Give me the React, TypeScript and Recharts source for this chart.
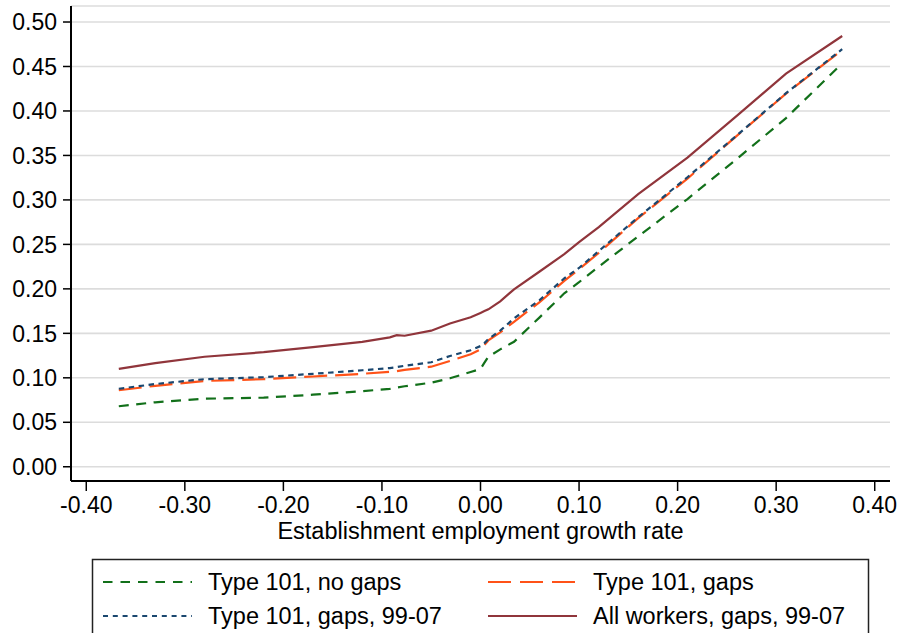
import React from "react";
import { LineChart, Line, XAxis, YAxis, CartesianGrid } from "recharts";

const xValues = [-0.367, -0.33, -0.28, -0.22, -0.17, -0.12, -0.092, -0.085, -0.077, -0.05, -0.031, -0.01, 0.0, 0.004, 0.008, 0.02, 0.034, 0.06, 0.085, 0.1, 0.12, 0.16, 0.21, 0.26, 0.31, 0.367];
const noGaps = [0.068, 0.0725, 0.0765, 0.0777, 0.081, 0.085, 0.0875, 0.089, 0.0905, 0.0945, 0.0995, 0.1065, 0.11, 0.117, 0.1237, 0.132, 0.1405, 0.168, 0.195, 0.2075, 0.225, 0.259, 0.301, 0.346, 0.392, 0.4536];
const gaps = [0.086, 0.091, 0.0965, 0.0985, 0.1015, 0.1045, 0.1068, 0.1075, 0.109, 0.1125, 0.119, 0.1265, 0.132, 0.137, 0.142, 0.151, 0.163, 0.185, 0.209, 0.222, 0.2405, 0.2795, 0.324, 0.372, 0.4195, 0.4685];
const gaps9907 = [0.0877, 0.093, 0.0985, 0.1007, 0.1045, 0.1085, 0.111, 0.112, 0.1135, 0.1175, 0.1245, 0.131, 0.1357, 0.139, 0.1435, 0.153, 0.1668, 0.1874, 0.2118, 0.2235, 0.2425, 0.2805, 0.3255, 0.3725, 0.42, 0.4695];
const allWorkers = [0.11, 0.1165, 0.1237, 0.1288, 0.1345, 0.1405, 0.1455, 0.148, 0.1473, 0.153, 0.161, 0.168, 0.173, 0.175, 0.177, 0.186, 0.1995, 0.2195, 0.239, 0.2525, 0.2695, 0.3065, 0.3475, 0.3945, 0.442, 0.4843];

const xTicks = [-0.4, -0.3, -0.2, -0.1, 0, 0.1, 0.2, 0.3, 0.4];
const yTicks = [0, 0.05, 0.1, 0.15, 0.2, 0.25, 0.3, 0.35, 0.4, 0.45, 0.5];

const seriesLabels = ["Type 101, no gaps", "Type 101, gaps", "Type 101, gaps, 99-07", "All workers, gaps, 99-07"];
const xLabel = "Establishment employment growth rate";

const data = xValues.map((x, i) => ({
  x,
  noGaps: noGaps[i],
  gaps: gaps[i],
  gaps9907: gaps9907[i],
  allWorkers: allWorkers[i],
}));

const FONT = "'Liberation Sans', Arial, sans-serif";
const GREEN = "#12701a";
const ORANGE = "#ff5218";
const NAVY = "#1a476f";
const MAROON = "#90353b";

const fmt = (v: number) => v.toFixed(2);

const legendItems = [
  { label: seriesLabels[0], color: GREEN, dash: "9.5 8", x: 103, y: 582 },
  { label: seriesLabels[1], color: ORANGE, dash: "23 9", x: 488, y: 582 },
  { label: seriesLabels[2], color: NAVY, dash: "5 4.8", x: 103, y: 616 },
  { label: seriesLabels[3], color: MAROON, dash: undefined, x: 488, y: 616 },
];

export default function App() {
  return (
    <div style={{ position: "absolute", left: 0, top: 0, width: 901, height: 633, background: "#fff", overflow: "hidden" }}>
      <LineChart
        width={901}
        height={633}
        data={data}
        margin={{ top: 6, right: 11, left: 0, bottom: 82 }}
        style={{ fontFamily: FONT }}
      >
        <CartesianGrid horizontal={true} vertical={false} stroke="#dcdcdc" strokeWidth={1.6} />
        <XAxis
          dataKey="x"
          type="number"
          domain={[-0.4155, 0.4155]}
          ticks={xTicks}
          tickFormatter={fmt}
          allowDataOverflow
          height={70}
          tickSize={10}
          tickMargin={6}
          axisLine={{ stroke: "#000", strokeWidth: 2 }}
          tickLine={{ stroke: "#000", strokeWidth: 1.5 }}
          tick={{ fill: "#000", fontSize: 23, fontFamily: FONT }}
          label={{ value: xLabel, position: "insideBottom", offset: 12, fill: "#000", fontSize: 23.5, fontFamily: FONT }}
        />
        <XAxis
          xAxisId="top"
          orientation="top"
          dataKey="x"
          type="number"
          domain={[-0.4155, 0.4155]}
          height={0}
          tick={false}
          tickLine={false}
          axisLine={{ stroke: "#000", strokeWidth: 2 }}
        />
        <YAxis
          type="number"
          domain={[-0.016, 0.518]}
          ticks={yTicks}
          tickFormatter={fmt}
          allowDataOverflow
          width={71}
          tickSize={8}
          tickMargin={6}
          axisLine={{ stroke: "#000", strokeWidth: 2 }}
          tickLine={{ stroke: "#000", strokeWidth: 1.5 }}
          tick={{ fill: "#000", fontSize: 23, fontFamily: FONT }}
        />
        <YAxis
          yAxisId="right"
          orientation="right"
          type="number"
          domain={[-0.016, 0.518]}
          width={0}
          tick={false}
          tickLine={false}
          axisLine={{ stroke: "#000", strokeWidth: 2 }}
        />
        <Line type="linear" dataKey="noGaps" stroke={GREEN} strokeWidth={2.2} strokeDasharray="10 7.5" dot={false} isAnimationActive={false} />
        <Line type="linear" dataKey="gaps" stroke={ORANGE} strokeWidth={2.2} strokeDasharray="23 8" dot={false} isAnimationActive={false} />
        <Line type="linear" dataKey="gaps9907" stroke={NAVY} strokeWidth={2.2} strokeDasharray="5.5 4.5" dot={false} isAnimationActive={false} />
        <Line type="linear" dataKey="allWorkers" stroke={MAROON} strokeWidth={2.2} dot={false} isAnimationActive={false} />
      </LineChart>
      <svg width={901} height={633} style={{ position: "absolute", left: 0, top: 0, pointerEvents: "none" }}>
        <rect x={92.5} y={559.5} width={776} height={100} fill="none" stroke="#222" strokeWidth={1.5} />
        {legendItems.map((it) => (
          <g key={it.label}>
            <line x1={it.x} x2={it.x + 89} y1={it.y} y2={it.y} stroke={it.color} strokeWidth={2.2} strokeDasharray={it.dash} />
            <text x={it.x + 105} y={it.y + 8.4} fontSize={23.5} fontFamily={FONT} fill="#000">{it.label}</text>
          </g>
        ))}
      </svg>
    </div>
  );
}
